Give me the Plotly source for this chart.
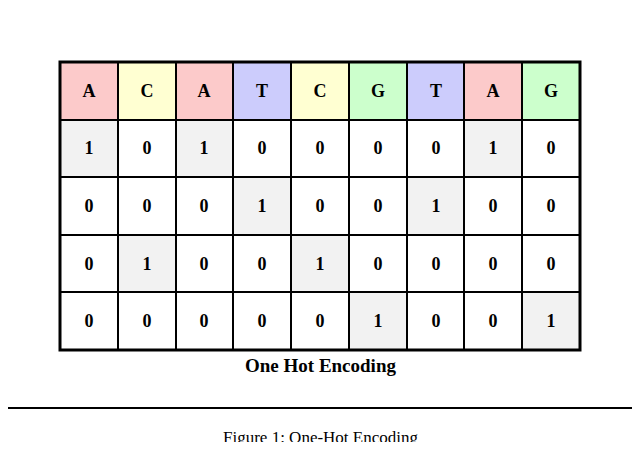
import plotly.graph_objects as go

sequence = ['A', 'C', 'A', 'T', 'C', 'G', 'T', 'A', 'G']
channels = ['A', 'T', 'C', 'G']  # row order in the one-hot table
caption = 'Figure 1: One-Hot Encoding'
title = 'One Hot Encoding'

# one-hot rows
onehot = [[1 if b == ch else 0 for b in sequence] for ch in channels]

# colour codes: 0 white, 1 light grey (ones), 2..5 header base colours
base_code = {'A': 2, 'C': 3, 'T': 4, 'G': 5}
z = [[base_code[b] for b in sequence]] + [[1 if v else 0 for v in row] for row in onehot]
text = [sequence] + [[str(v) for v in row] for row in onehot]

colors = ['#ffffff', '#f2f2f2', '#fccaca', '#ffffd2', '#ccccfc', '#ccffcc']
cs = []
for i, c in enumerate(colors):
    cs.append([i / len(colors), c])
    cs.append([(i + 1) / len(colors), c])

fig = go.Figure(go.Heatmap(
    z=z, text=text, texttemplate='<b>%{text}</b>',
    textfont=dict(family='Liberation Serif', size=18, color='black'),
    colorscale=cs, zmin=-0.5, zmax=5.5, showscale=False,
    xgap=2, ygap=2, hoverinfo='skip',
))

# page body adds ~8px margin, so the figure is a bit smaller than the window
fig.update_layout(
    width=624, height=434,
    margin=dict(l=52, r=52, t=54, b=92),
    paper_bgcolor='white', plot_bgcolor='black',
    xaxis=dict(visible=False, range=[-0.5, 8.5]),
    yaxis=dict(visible=False, range=[4.5, -0.5]),
    shapes=[
        dict(type='rect', xref='paper', yref='paper', x0=0, x1=1, y0=0, y1=1,
             line=dict(color='black', width=3)),
        dict(type='rect', xref='paper', yref='paper', x0=-0.111, x1=1.11,
             y0=-0.201, y1=1.208, line=dict(color='black', width=2)),
    ],
    annotations=[
        dict(text='<b>' + title + '</b>', xref='paper', yref='paper', x=0.5, y=-0.055,
             showarrow=False, yanchor='middle',
             font=dict(family='Liberation Serif', size=19, color='black')),
        dict(text=caption, xref='paper', yref='paper', x=0.5, y=-0.305,
             showarrow=False, yanchor='middle',
             font=dict(family='Liberation Serif', size=17, color='black')),
    ],
)

fig.write_html('out.html')
